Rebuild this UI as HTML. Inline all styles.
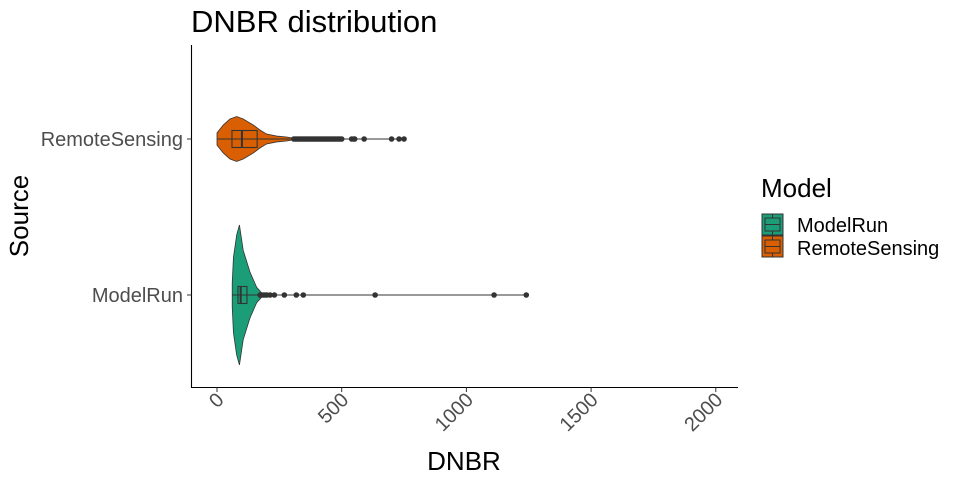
<!DOCTYPE html>
<html><head><meta charset="utf-8"><style>
body{margin:0;background:#fff}
svg{display:block;font-family:"Liberation Sans",sans-serif}
</style></head><body>
<svg width="960" height="480" viewBox="0 0 960 480">
<text x="191" y="32" font-size="31" fill="#000">DNBR distribution</text>
<g id="plot"></g>
<text transform="translate(28,216) rotate(-90)" text-anchor="middle" font-size="26" fill="#000">Source</text>
<text x="464" y="470" text-anchor="middle" font-size="26" fill="#000">DNBR</text>
<g>
<text x="761" y="197" font-size="26" fill="#000">Model</text>
<g>
<rect x="762" y="214" width="21" height="21" fill="#1b9e77" stroke="#333" stroke-width="1"/>
<rect x="765" y="218" width="15" height="13" fill="none" stroke="#333"/>
<line x1="765" y1="224.5" x2="780" y2="224.5" stroke="#333"/>
<line x1="772.5" y1="214" x2="772.5" y2="218" stroke="#333"/><line x1="772.5" y1="231" x2="772.5" y2="235" stroke="#333"/>
<text x="797" y="232" font-size="20" fill="#000">ModelRun</text></g>
<g>
<rect x="762" y="236" width="21" height="21" fill="#d95f02" stroke="#333" stroke-width="1"/>
<rect x="765" y="240" width="15" height="13" fill="none" stroke="#333"/>
<line x1="765" y1="246.5" x2="780" y2="246.5" stroke="#333"/>
<line x1="772.5" y1="236" x2="772.5" y2="240" stroke="#333"/><line x1="772.5" y1="253" x2="772.5" y2="257" stroke="#333"/>
<text x="797" y="255" font-size="20" fill="#000">RemoteSensing</text></g>
</g>
</svg>
<script>
const categories=["ModelRun","RemoteSensing"];
const colors=["#1b9e77","#d95f02"];
const xTicks=[0,500,1000,1500,2000];
const densVal=[[61,66,79,90,105,132,159,179,185],[0,25,52,79,105,146,172,199,239,279,306,315]];
const densRel=[[0.17,0.54,0.86,1,0.64,0.33,0.11,0.03,0],[0.27,0.62,0.89,1,0.89,0.62,0.4,0.22,0.13,0.09,0.04,0]];
const boxQ1=[84,60];
const boxMed=[95,100];
const boxQ3=[120,161];
const whiskLo=[60,0];
const whiskHi=[170,305];
const outliers=[[173,178,185,192,200,213,230,270,318,346,634,1111,1240],[308,314,320,326,332,338,344,350,356,362,368,374,380,386,392,398,404,410,416,422,428,434,440,446,452,458,464,470,476,482,488,494,500,540,548,552,590,700,730,750]];
const maxHalf=[70,22.5];
const NS="http://www.w3.org/2000/svg";
const x=v=>217+v*0.2494;
const y=i=>[295,139][i];
const g=document.getElementById('plot');
function mk(t,a){const e=document.createElementNS(NS,t);for(const k in a)e.setAttribute(k,a[k]);g.appendChild(e);return e;}
let ax=mk('path',{d:'M191.5 45 V387.5 H738',fill:'none',stroke:'#000','stroke-width':1.1});


xTicks.forEach(t=>{
 const l=mk('line',{x1:x(t),x2:x(t),y1:387.5,y2:392,stroke:'#333'});
 
 
 const tx=mk('text',{transform:`translate(${x(t)+8},${401}) rotate(-45)`,'text-anchor':'end','font-size':20,fill:'#4d4d4d'});
 tx.textContent=t;
 
 
});
categories.forEach((c,i)=>{
 const l=mk('line',{x1:187,x2:191.5,y1:y(i),y2:y(i),stroke:'#333'});
 
 
 const tx=mk('text',{x:183,y:y(i)+7,'text-anchor':'end','font-size':20,fill:'#4d4d4d'});
 tx.textContent=c;
 
 
 const v=densVal[i],r=densRel[i],h=maxHalf[i];
 let top=v.map((d,k)=>`${x(d)},${y(i)-r[k]*h}`),bot=v.map((d,k)=>`${x(d)},${y(i)+r[k]*h}`).reverse();
 const p=mk('polygon',{points:top.concat(bot).join(' '),fill:colors[i],stroke:'#333','stroke-width':0.8});
 
 
 const wl=mk('line',{x1:x(whiskLo[i]),x2:x(Math.max(...outliers[i])),y1:y(i),y2:y(i),stroke:'#333','stroke-width':1.1});
 
 
 const b=mk('rect',{x:x(boxQ1[i]),y:y(i)-8.5,width:x(boxQ3[i])-x(boxQ1[i]),height:17,fill:'none',stroke:'#333','stroke-width':1.1});
 
 
 const m=mk('line',{x1:x(boxMed[i]),x2:x(boxMed[i]),y1:y(i)-8.5,y2:y(i)+8.5,stroke:'#333','stroke-width':2});
 
 
 outliers[i].forEach(o=>{
  const d=mk('circle',{cx:x(o),cy:y(i),r:2.8,fill:'#333'});
  
  
 });
});
</script>
</body></html>
